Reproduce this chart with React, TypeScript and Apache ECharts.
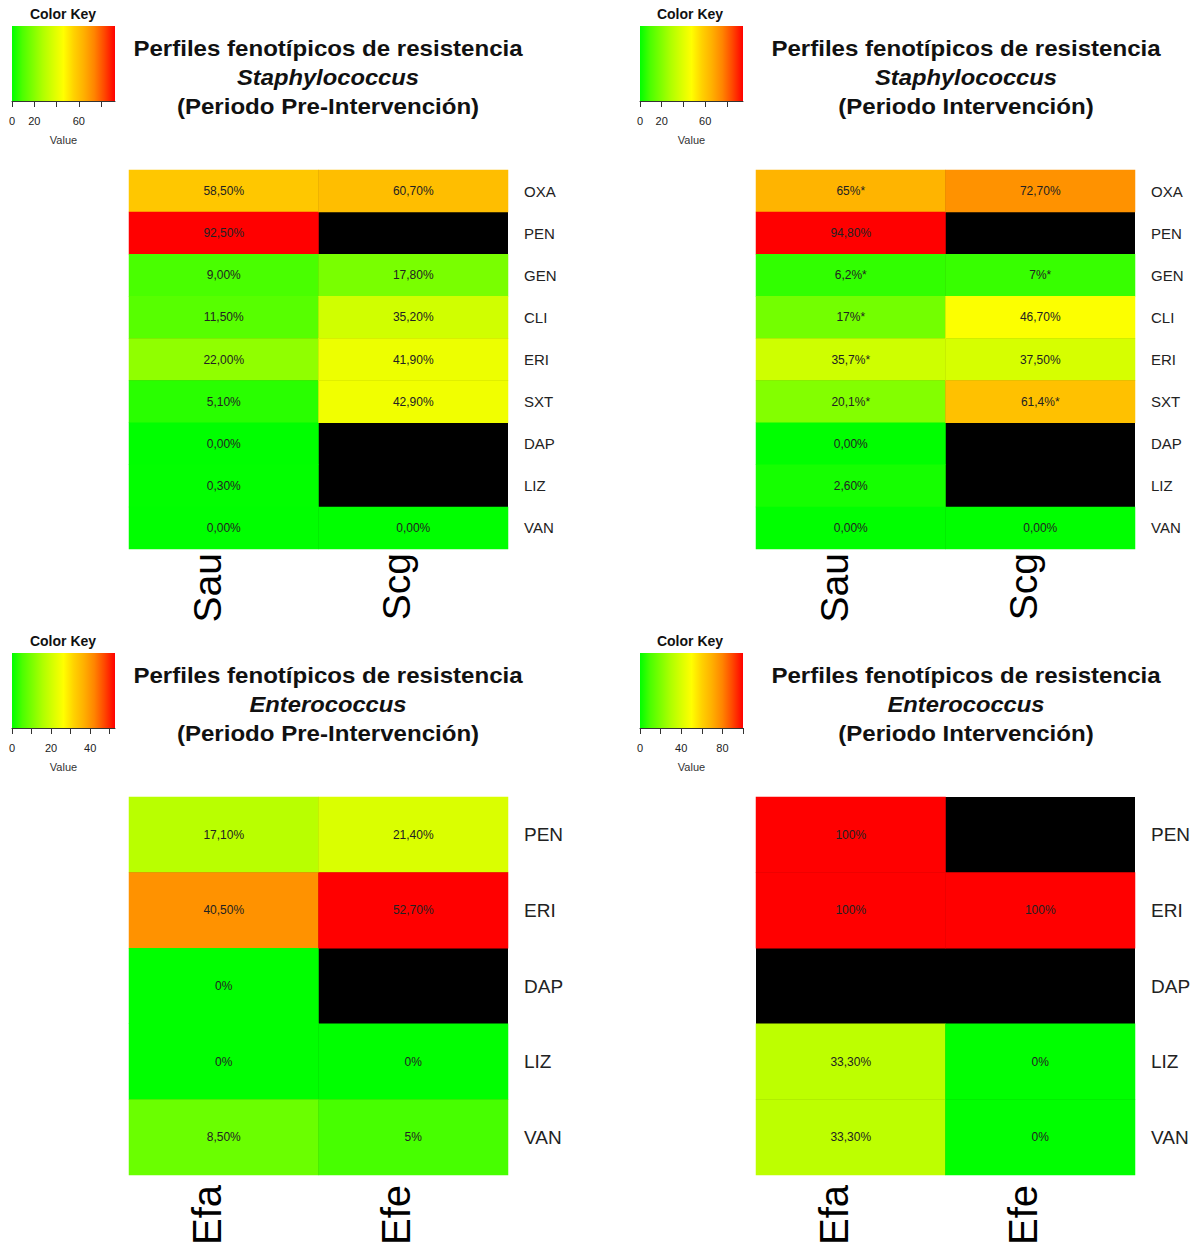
import React, { useEffect, useRef } from "react";
import * as echarts from "echarts";

// ---------- DATA ----------
const staphRows = ["OXA", "PEN", "GEN", "CLI", "ERI", "SXT", "DAP", "LIZ", "VAN"];
const staphCols = ["Sau", "Scg"];
const enteroRows = ["PEN", "ERI", "DAP", "LIZ", "VAN"];
const enteroCols = ["Efa", "Efe"];

// Staphylococcus pre-intervention (null = no data, drawn black)
const p1Sau = [58.5, 92.5, 9.0, 11.5, 22.0, 5.1, 0.0, 0.3, 0.0];
const p1Scg = [60.7, null, 17.8, 35.2, 41.9, 42.9, null, null, 0.0];
const p1SauLbl = ["58,50%", "92,50%", "9,00%", "11,50%", "22,00%", "5,10%", "0,00%", "0,30%", "0,00%"];
const p1ScgLbl = ["60,70%", "", "17,80%", "35,20%", "41,90%", "42,90%", "", "", "0,00%"];

// Staphylococcus intervention
const p2Sau = [65, 94.8, 6.2, 17, 35.7, 20.1, 0.0, 2.6, 0.0];
const p2Scg = [72.7, null, 7, 46.7, 37.5, 61.4, null, null, 0.0];
const p2SauLbl = ["65%*", "94,80%", "6,2%*", "17%*", "35,7%*", "20,1%*", "0,00%", "2,60%", "0,00%"];
const p2ScgLbl = ["72,70%", "", "7%*", "46,70%", "37,50%", "61,4%*", "", "", "0,00%"];

// Enterococcus pre-intervention
const p3Efa = [17.1, 40.5, 0, 0, 8.5];
const p3Efe = [21.4, 52.7, null, 0, 5];
const p3EfaLbl = ["17,10%", "40,50%", "0%", "0%", "8,50%"];
const p3EfeLbl = ["21,40%", "52,70%", "", "0%", "5%"];

// Enterococcus intervention
const p4Efa = [100, 100, null, 33.3, 33.3];
const p4Efe = [null, 100, null, 0, 0];
const p4EfaLbl = ["100%", "100%", "", "33,30%", "33,30%"];
const p4EfeLbl = ["", "100%", "", "0%", "0%"];

// Color key scales
const keyMax = [92.5, 94.8, 52.7, 100];
const keyTicks = [[0, 20, 40, 60, 80], [0, 20, 40, 60, 80], [0, 10, 20, 30, 40, 50], [0, 20, 40, 60, 80, 100]];
const keyLabels = [[0, 20, 60], [0, 20, 60], [0, 20, 40], [0, 40, 80]];

const genus = ["Staphylococcus", "Staphylococcus", "Enterococcus", "Enterococcus"];
const period = ["(Periodo Pre-Intervención)", "(Periodo Intervención)", "(Periodo Pre-Intervención)", "(Periodo Intervención)"];
const mainTitle = "Perfiles fenotípicos de resistencia";

// green -> yellow -> red ramp, sampled at 0%,10%,...,100% of each panel's range
const rampColors = [
  "#00FF00", "#4BFF00", "#7DFF00", "#AFFF00", "#D8FF00", "#FFFF00",
  "#FFD200", "#FFAF00", "#FF8400", "#FF4600", "#FF0000",
];
const FONT = "'Liberation Sans', Arial, sans-serif";

export default function App() {
  const ref = useRef<HTMLDivElement>(null);
  useEffect(() => {
    if (!ref.current) return;
    const chart = echarts.init(ref.current, null, { renderer: "svg" });

    const panels = [
      { rows: staphRows, cols: staphCols, vals: [p1Sau, p1Scg], lbls: [p1SauLbl, p1ScgLbl] },
      { rows: staphRows, cols: staphCols, vals: [p2Sau, p2Scg], lbls: [p2SauLbl, p2ScgLbl] },
      { rows: enteroRows, cols: enteroCols, vals: [p3Efa, p3Efe], lbls: [p3EfaLbl, p3EfeLbl] },
      { rows: enteroRows, cols: enteroCols, vals: [p4Efa, p4Efe], lbls: [p4EfaLbl, p4EfeLbl] },
    ];
    const panelX = [0, 627];
    const panelY = [0, 627];

    const grids: any[] = [];
    const xAxes: any[] = [];
    const yAxes: any[] = [];
    const series: any[] = [];
    const visualMaps: any[] = [];
    const graphics: any[] = [];

    panels.forEach((p, i) => {
      const ox = panelX[i % 2];
      const oy = panelY[Math.floor(i / 2)];
      const big = p.rows.length < 9;
      grids.push({
        left: 129 + ox,
        top: 170 + oy,
        width: 379,
        height: big ? 378 : 379,
        show: true,
        borderWidth: 0,
        backgroundColor: "#000000",
        containLabel: false,
        outerBoundsMode: "none",
      });
      const colFont = big ? 40 : 39;
      xAxes.push({
        type: "category",
        gridIndex: i,
        data: p.cols,
        axisLine: { show: false },
        axisTick: { show: false },
        splitLine: { show: false },
        axisLabel: {
          rotate: 90,
          fontSize: colFont,
          lineHeight: colFont - 6,
          color: "#000",
          fontFamily: FONT,
          margin: big ? 10 : 4,
          verticalAlign: "bottom",
        },
      });
      yAxes.push({
        type: "category",
        gridIndex: i,
        data: p.rows,
        inverse: true,
        position: "right",
        axisLine: { show: false },
        axisTick: { show: false },
        splitLine: { show: false },
        axisLabel: { fontSize: big ? 19 : 15, color: "#222", fontFamily: FONT, margin: 16 },
      });
      const data: any[] = [];
      p.vals.forEach((col, ci) => {
        col.forEach((v, ri) => {
          if (v !== null) data.push([ci, ri, v]);
        });
      });
      series.push({
        type: "heatmap",
        xAxisIndex: i,
        yAxisIndex: i,
        data,
        itemStyle: { borderWidth: 0 },
        emphasis: { disabled: true },
        label: {
          show: true,
          fontSize: 12,
          color: "#222",
          fontFamily: FONT,
          formatter: (prm: any) => p.lbls[prm.value[0]][prm.value[1]],
        },
      });
      visualMaps.push({
        type: "continuous",
        seriesIndex: i,
        min: 0,
        max: keyMax[i],
        show: false,
        inRange: { color: rampColors },
      });

      const cx = 328 + ox + (i % 2 === 1 ? 11 : 0);
      const tStyle = (text: string, font: string) => ({
        text,
        font,
        fill: "#111",
        align: "center",
        verticalAlign: "middle",
      });
      graphics.push(
        { type: "text", x: cx, y: 48 + oy, scaleX: 1.095, style: tStyle(mainTitle, `bold 22px ${FONT}`) },
        { type: "text", x: cx, y: 77 + oy, scaleX: 1.08, style: tStyle(genus[i], `italic bold 22px ${FONT}`) },
        { type: "text", x: cx, y: 106 + oy, scaleX: 1.095, style: tStyle(period[i], `bold 22px ${FONT}`) },
        { type: "text", x: 63 + ox, y: 14 + oy, style: tStyle("Color Key", `bold 14px ${FONT}`) }
      );
    });

    // color key grids
    panels.forEach((p, i) => {
      const ox = i % 2 === 1 ? 628 : 0;
      const oy = i >= 2 ? 627 : 0;
      const gi = 4 + i;
      grids.push({
        left: 12 + ox,
        top: 26 + oy,
        width: 103,
        height: 75,
        show: true,
        borderWidth: 0,
        containLabel: false,
        outerBoundsMode: "none",
        backgroundColor: {
          type: "linear",
          x: 0,
          y: 0,
          x2: 1,
          y2: 0,
          colorStops: rampColors.map((c, k) => ({ offset: k / (rampColors.length - 1), color: c })),
        },
      });
      xAxes.push({
        type: "value",
        gridIndex: gi,
        min: 0,
        max: keyMax[i],
        position: "bottom",
        name: "Value",
        nameLocation: "middle",
        nameGap: 33,
        nameTextStyle: { fontSize: 11, color: "#333", fontFamily: FONT },
        axisLine: { show: true, lineStyle: { color: "#333", width: 1 } },
        axisTick: { show: true, length: 6, lineStyle: { color: "#333" }, customValues: keyTicks[i] },
        axisLabel: { fontSize: 11, color: "#222", fontFamily: FONT, margin: 14, customValues: keyLabels[i] },
        splitLine: { show: false },
      });
      yAxes.push({ type: "value", gridIndex: gi, show: false, min: 0, max: 1 });
    });

    chart.setOption({
      animation: false,
      backgroundColor: "#ffffff",
      grid: grids,
      xAxis: xAxes,
      yAxis: yAxes,
      visualMap: visualMaps,
      series,
      graphic: graphics,
    });
    return () => chart.dispose();
  }, []);
  return <div ref={ref} style={{ position: "fixed", left: 0, top: 0, width: 1198, height: 1244 }} />;
}
